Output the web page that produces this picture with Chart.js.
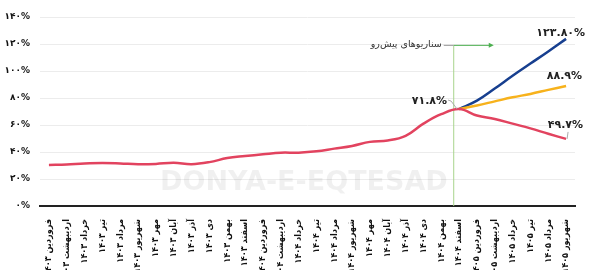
<!DOCTYPE html>
<html lang="fa">
<head>
<meta charset="UTF-8">
<title>سناریوهای تورم</title>
<script src="https://cdn.jsdelivr.net/npm/chart.js"></script>
<style>
	body {padding: 0; margin: 0; background: #fff;}
	#chartContainer { width: 590px; height: 270px; }
</style>
</head>
<body>

<div id="chartContainer">
    <canvas id="myChart"></canvas>
</div>

<script>
var fa = function(s) { return String(s).replace(/[0-9]/g, function(d) { return '۰۱۲۳۴۵۶۷۸۹'[d]; }); };

var months = ['فروردین', 'اردیبهشت', 'خرداد', 'تیر', 'مرداد', 'شهریور', 'مهر', 'آبان', 'آذر', 'دی', 'بهمن', 'اسفند'];
var years = ['1403', '1404', '1405'];

// 30 months: 1403 (12), 1404 (12), 1405 (6)
var categories = [];
years.forEach(function(y, k) {
    var n = k < 2 ? 12 : 6;
    for (var m = 0; m < n; m++) categories.push(months[m] + ' ' + fa(y));
});

var pessimistic = [30.4, 30.8, 31.5, 31.8, 31.5, 31, 31.2, 32, 31, 32.5, 35.5, 37,
                   38.3, 39.5, 39.5, 40.5, 42.5, 44.5, 47.5, 48.5, 52, 61, 68, 71.8,
                   67, 64.5, 61, 57.5, 53.5, 49.7];
var middle = [null, null, null, null, null, null, null, null, null, null, null, null,
              null, null, null, null, null, null, null, null, null, null, null, 71.8,
              74.5, 77.5, 80.5, 83, 86, 88.9];
var high = [null, null, null, null, null, null, null, null, null, null, null, null,
            null, null, null, null, null, null, null, null, null, null, null, 71.8,
            78, 87, 96.5, 105.5, 114.5, 123.8];

var yTicks = [0, 20, 40, 60, 80, 100, 120, 140];
var splitIndex = 23;
var scenarioTitle = 'سناریوهای پیش‌رو';
var endLabels = ['۱۲۳.۸۰%', '۸۸.۹%', '۴۹.۷%'];
var splitLabel = '۷۱.۸%';

var font = "'DejaVu Sans', sans-serif";
var condensed = "'DejaVu Sans Condensed', 'DejaVu Sans', sans-serif";

// extra drawing: split line, arrow, value labels, watermark
var notes = {
    id: 'notes',
    beforeDatasetsDraw: function(chart) {
        var ctx = chart.ctx, x = chart.scales.x, y = chart.scales.y;
        ctx.save();
        ctx.font = "bold 27px " + font;
        ctx.fillStyle = 'rgba(0,0,0,0.06)';
        ctx.textAlign = 'center';
        ctx.textBaseline = 'middle';
        ctx.fillText('DONYA-E-EQTESAD', x.getPixelForValue(14.3), y.getPixelForValue(17));

        var sx = x.getPixelForValue(splitIndex - 0.3);
        var ty = y.getPixelForValue(119);
        ctx.strokeStyle = '#a8d48c';
        ctx.lineWidth = 1;
        ctx.beginPath();
        ctx.moveTo(sx, ty);
        ctx.lineTo(sx, y.getPixelForValue(0));
        ctx.stroke();
        ctx.strokeStyle = '#4caf50';
        ctx.beginPath();
        ctx.moveTo(sx, ty);
        ctx.lineTo(sx + 38, ty);
        ctx.stroke();
        ctx.fillStyle = '#4caf50';
        ctx.beginPath();
        ctx.moveTo(sx + 40, ty);
        ctx.lineTo(sx + 35, ty - 2.5);
        ctx.lineTo(sx + 35, ty + 2.5);
        ctx.closePath();
        ctx.fill();
        ctx.strokeStyle = '#999';
        ctx.beginPath();
        ctx.moveTo(sx - 10, ty);
        ctx.lineTo(sx, ty);
        ctx.stroke();
        ctx.font = "9.5px " + font;
        ctx.fillStyle = '#333';
        ctx.textAlign = 'right';
        ctx.fillText(scenarioTitle, sx - 12, ty - 1);
        ctx.restore();
    },
    afterDatasetsDraw: function(chart) {
        var ctx = chart.ctx, x = chart.scales.x, y = chart.scales.y;
        var last = categories.length - 1;
        var ex = x.getPixelForValue(last);
        ctx.save();
        ctx.font = "bold 11px " + font;
        ctx.fillStyle = '#222';
        ctx.textBaseline = 'middle';
        ctx.textAlign = 'right';
        ctx.fillText(endLabels[0], ex + 19, y.getPixelForValue(high[last]) - 6);
        ctx.fillText(endLabels[1], ex + 16, y.getPixelForValue(middle[last]) - 10);
        ctx.fillText(endLabels[2], ex + 17, y.getPixelForValue(pessimistic[last]) - 14);
        var px = x.getPixelForValue(splitIndex), py = y.getPixelForValue(pessimistic[splitIndex]);
        ctx.fillText(splitLabel, px - 12, py - 8);

        ctx.strokeStyle = '#aaa';
        ctx.lineWidth = 1;
        ctx.beginPath();
        ctx.moveTo(px - 2, py);
        ctx.lineTo(px - 8, py - 8);
        ctx.lineTo(px - 11, py - 9);
        ctx.stroke();
        var ly = y.getPixelForValue(pessimistic[last]);
        ctx.beginPath();
        ctx.moveTo(ex + 1, ly);
        ctx.lineTo(ex + 2, ly - 7);
        ctx.stroke();
        ctx.restore();
    }
};

var chartCtx = document.getElementById('myChart').getContext('2d');
var myChart = new Chart(chartCtx, {
    type: 'line',
    data: {
        labels: categories,
        datasets: [{
            label: 'بدبینانه',
            data: pessimistic,
            borderColor: '#e2435f',
            borderWidth: 2.5,
            tension: 0.4,
            pointRadius: 0
        }, {
            label: 'میانه',
            data: middle,
            borderColor: '#f7b21c',
            borderWidth: 2.5,
            tension: 0.4,
            pointRadius: 0
        }, {
            label: 'بالا',
            data: high,
            borderColor: '#173f8f',
            borderWidth: 2.5,
            tension: 0.4,
            pointRadius: 0
        }]
    },
    options: {
        responsive: true,
        maintainAspectRatio: false,
        animation: false,
        layout: { padding: { top: 17, right: 15, left: 0, bottom: 0 } },
        plugins: {
            legend: { display: false },
            tooltip: { enabled: false }
        },
        scales: {
            x: {
                offset: true,
                grid: { display: false },
                border: { display: true, color: '#222', width: 2, dash: [5, 3] },
                ticks: {
                    autoSkip: false,
                    minRotation: 90,
                    maxRotation: 90,
                    padding: 5,
                    color: '#111',
                    font: { family: condensed, size: 9, weight: 'bold' }
                },
                afterFit: function(scale) { scale.height = 64; }
            },
            y: {
                min: 0,
                max: 140,
                afterBuildTicks: function(scale) {
                    scale.ticks = yTicks.map(function(v) { return { value: v }; });
                },
                grid: {
                    color: function(c) { return c.tick && c.tick.value === 0 ? 'rgba(0,0,0,0)' : '#ececec'; },
                    drawTicks: false
                },
                border: { display: false },
                ticks: {
                    padding: 10,
                    color: '#111',
                    font: { family: font, size: 9, weight: 'bold' },
                    callback: function(v) { return fa(v) + '%'; }
                },
                afterFit: function(scale) { scale.width = 40; }
            }
        }
    },
    plugins: [notes]
});
</script>

</body>
</html>
